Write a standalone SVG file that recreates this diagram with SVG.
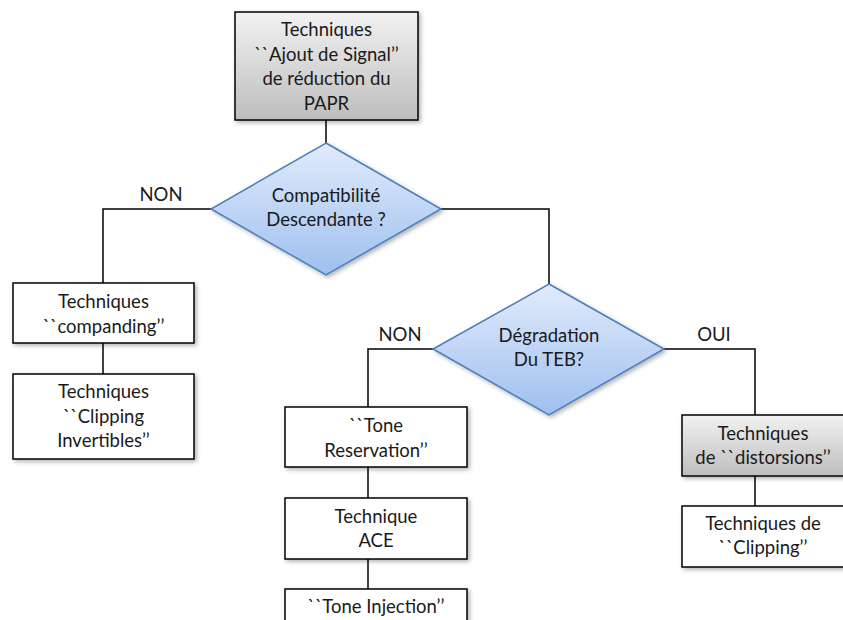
<svg xmlns="http://www.w3.org/2000/svg" width="843" height="620" viewBox="0 0 843 620">
<defs>
<linearGradient id="gray" x1="0" y1="0" x2="0" y2="1">
<stop offset="0" stop-color="#f2f2f2"/>
<stop offset="1" stop-color="#bdbdbd"/>
</linearGradient>
<linearGradient id="blue" x1="0" y1="0" x2="0" y2="1">
<stop offset="0" stop-color="#e1ebfb"/>
<stop offset="1" stop-color="#9fbfef"/>
</linearGradient>
<filter id="sh" x="-10%" y="-10%" width="130%" height="140%">
<feDropShadow dx="2" dy="2" stdDeviation="2" flood-color="#000" flood-opacity="0.3"/>
</filter>
</defs>
<style>
.box{fill:#fff;stroke:#000;stroke-width:1.5;filter:url(#sh)}
.gbox{fill:url(#gray);stroke:#000;stroke-width:1.5;filter:url(#sh)}
.dia{fill:url(#blue);stroke:#4a7ebb;stroke-width:1.5;filter:url(#sh)}
.t{font-family:Lato,"Liberation Sans",sans-serif;font-size:18.5px;fill:#1a1a1a;text-anchor:middle}
.c{fill:none;stroke:#000;stroke-width:1.5}
</style>
<rect width="843" height="620" fill="#fff"/>
<g id="connectors">
<polyline class="c" points="326,120 326,143"/>
<polyline class="c" points="211,209 103,209 103,283"/>
<polyline class="c" points="103,343 103,374"/>
<polyline class="c" points="441,209 549,209 549,284"/>
<polyline class="c" points="433,349 368,349 368,407"/>
<polyline class="c" points="368,467 368,498"/>
<polyline class="c" points="368,559 368,589"/>
<polyline class="c" points="664,349 755,349 755,415"/>
<polyline class="c" points="755,476 755,506"/>
<text class="t" x="161" y="201">NON</text>
<text class="t" x="400" y="341">NON</text>
<text class="t" x="714" y="341">OUI</text>
</g>
<g id="top">
<rect class="gbox" x="235" y="12" width="183" height="108"/>
<text class="t" x="326.5" y="36">Techniques</text>
<text class="t" x="326.5" y="61">``Ajout de Signal’’</text>
<text class="t" x="326.5" y="85">de réduction du</text>
<text class="t" x="326.5" y="110">PAPR</text>
</g>
<g id="d1">
<polygon class="dia" points="326,143 441,209 326,275 211,209"/>
<text class="t" x="326" y="202">Compatibilité</text>
<text class="t" x="326" y="226">Descendante ?</text>
</g>
<g id="companding">
<rect class="box" x="13" y="283" width="181" height="60"/>
<text class="t" x="103.5" y="308">Techniques</text>
<text class="t" x="103.5" y="333">``companding’’</text>
</g>
<g id="clipinv">
<rect class="box" x="13" y="374" width="181" height="85"/>
<text class="t" x="103.5" y="398">Techniques</text>
<text class="t" x="103.5" y="423">``Clipping</text>
<text class="t" x="103.5" y="447">Invertibles’’</text>
</g>
<g id="d2">
<polygon class="dia" points="549,284 664,349 549,415 433,349"/>
<text class="t" x="549" y="342">Dégradation</text>
<text class="t" x="549" y="366">Du TEB?</text>
</g>
<g id="toneres">
<rect class="box" x="285" y="407" width="182" height="60"/>
<text class="t" x="376" y="432">``Tone</text>
<text class="t" x="376" y="457">Reservation’’</text>
</g>
<g id="ace">
<rect class="box" x="285" y="498" width="182" height="61"/>
<text class="t" x="376" y="523">Technique</text>
<text class="t" x="376" y="547">ACE</text>
</g>
<g id="toneinj">
<rect class="box" x="285" y="589" width="182" height="45"/>
<text class="t" x="376" y="613">``Tone Injection’’</text>
</g>
<g id="distorsions">
<rect class="gbox" x="682" y="415" width="164" height="61"/>
<text class="t" x="763" y="440">Techniques</text>
<text class="t" x="763" y="464">de ``distorsions’’</text>
</g>
<g id="clipping">
<rect class="box" x="682" y="506" width="164" height="61"/>
<text class="t" x="763" y="530">Techniques de</text>
<text class="t" x="763" y="554">``Clipping’’</text>
</g>
</svg>
